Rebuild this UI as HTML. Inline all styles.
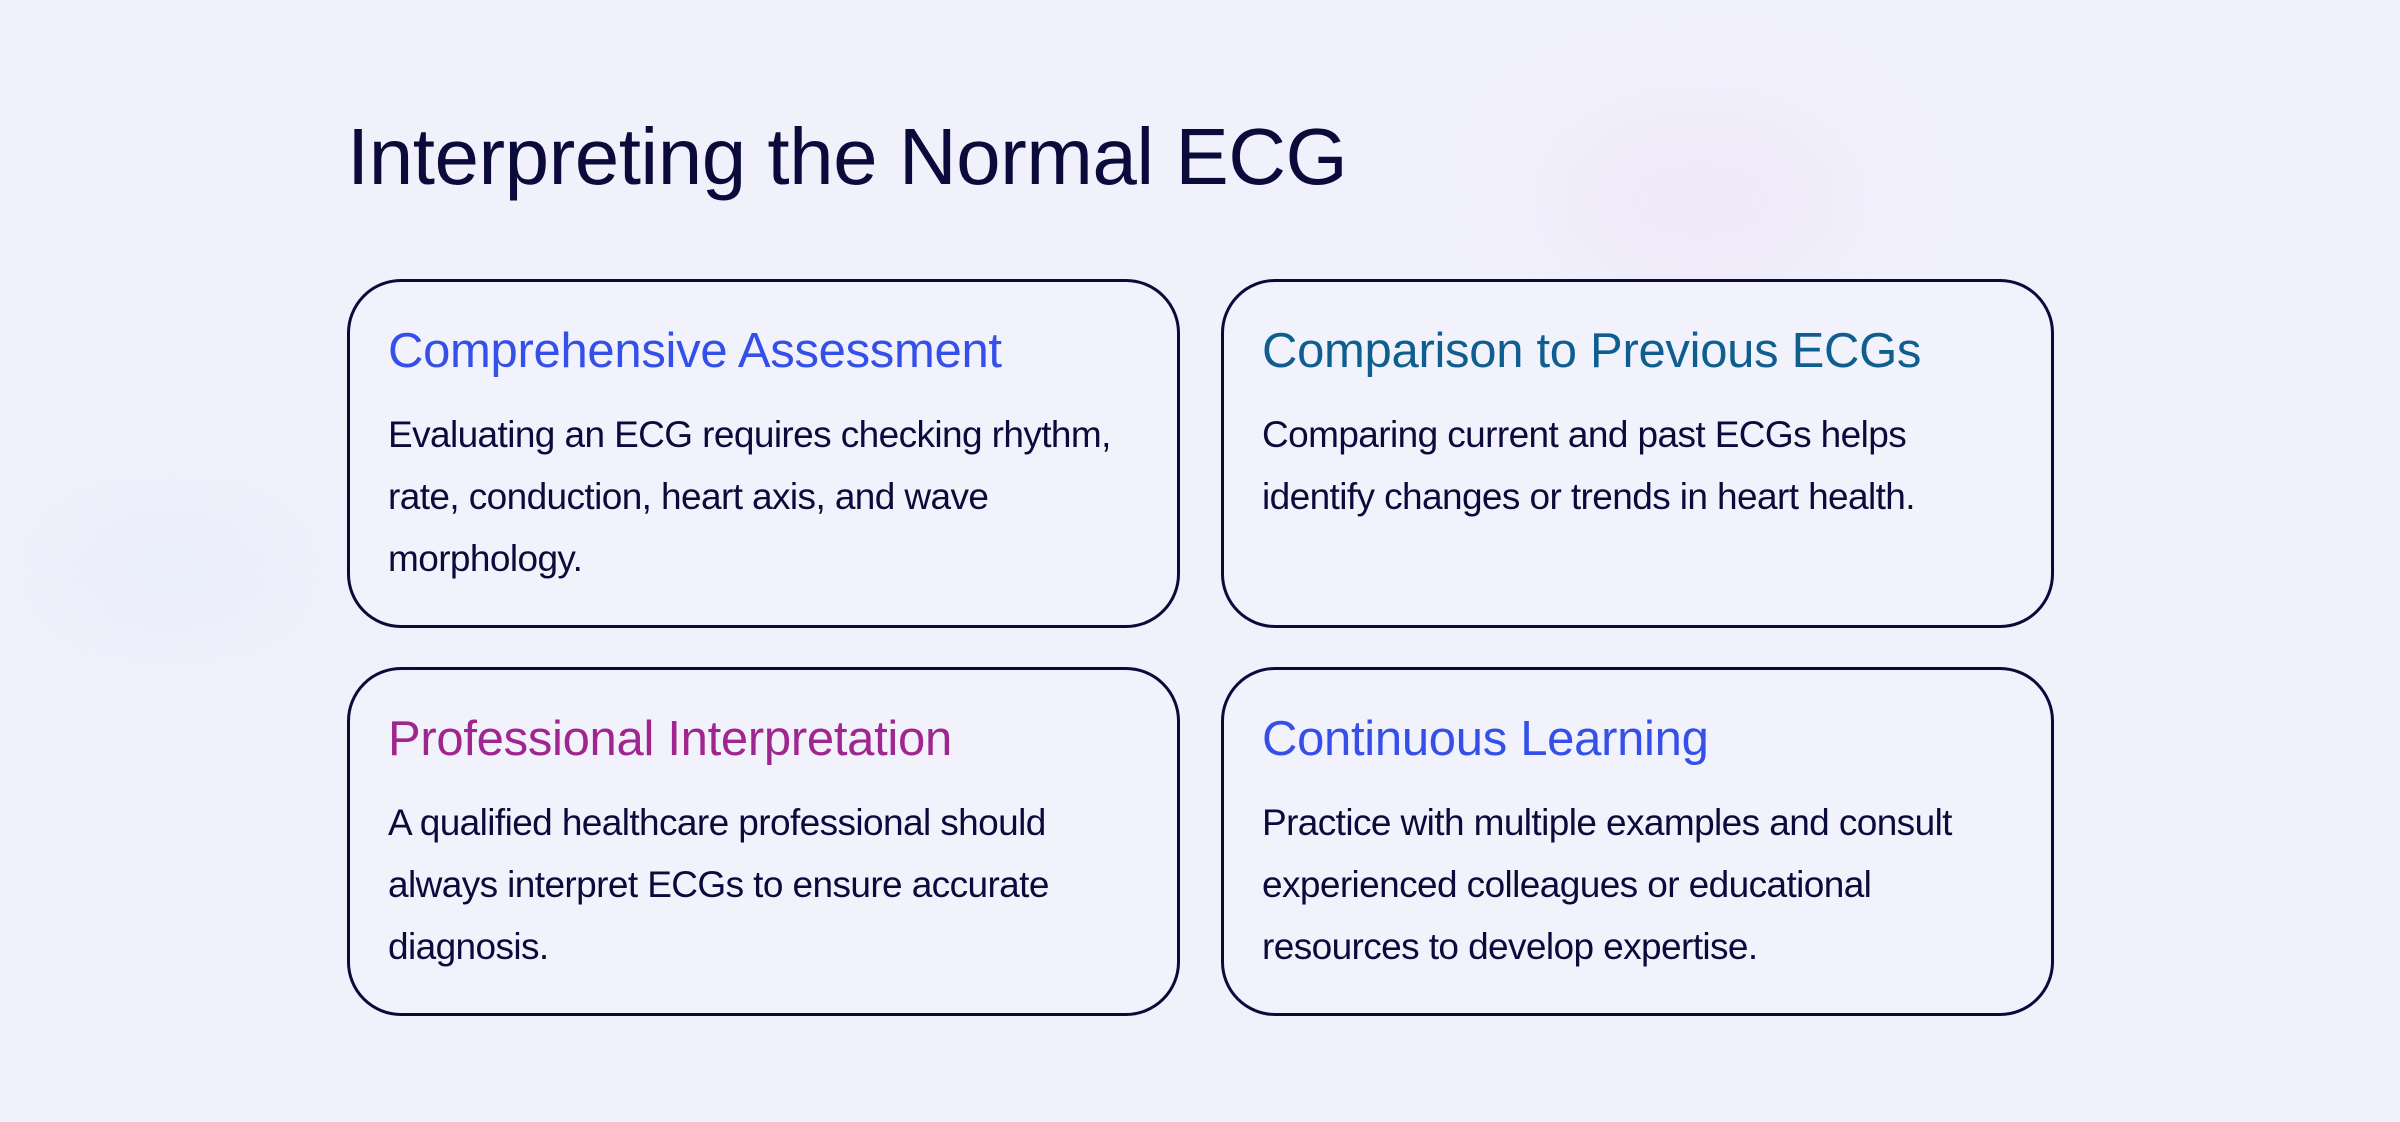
<!DOCTYPE html>
<html><head><meta charset="utf-8"><style>
body{margin:0;width:2400px;height:1122px;overflow:hidden;background:#f1f1fc;font-family:"Liberation Sans",sans-serif;position:relative}
.blob{position:absolute;border-radius:50%;filter:blur(60px);opacity:.5}
h1{position:absolute;left:347px;top:117px;margin:0;font-size:80px;line-height:1;font-weight:400;color:#0b0b3b;letter-spacing:-0.5px}
.card{position:absolute;width:827px;height:343px;border:3px solid #0b0b3b;border-radius:54px;background:#f2f2fd}
.card h2{position:absolute;left:38px;top:45px;margin:0;font-size:49px;line-height:1;font-weight:400;letter-spacing:-0.3px;white-space:nowrap}
.card p{position:absolute;left:38px;top:122px;margin:0;width:780px;font-size:37px;line-height:62px;color:#0b0b3b;letter-spacing:-0.6px;white-space:nowrap}
</style></head><body>
<div class="blob" style="left:1550px;top:130px;width:300px;height:140px;background:#ecdcf4"></div>
<div class="blob" style="left:20px;top:500px;width:300px;height:140px;background:#e0e8f8"></div>
<h1>Interpreting the Normal ECG</h1>
<div class="card" style="left:347px;top:279px">
<h2 style="color:#3550e8">Comprehensive Assessment</h2>
<p>Evaluating an ECG requires checking rhythm,<br>rate, conduction, heart axis, and wave<br>morphology.</p></div>
<div class="card" style="left:1221px;top:279px">
<h2 style="color:#0e5f8f">Comparison to Previous ECGs</h2>
<p>Comparing current and past ECGs helps<br>identify changes or trends in heart health.</p></div>
<div class="card" style="left:347px;top:667px">
<h2 style="color:#a0258f">Professional Interpretation</h2>
<p>A qualified healthcare professional should<br>always interpret ECGs to ensure accurate<br>diagnosis.</p></div>
<div class="card" style="left:1221px;top:667px">
<h2 style="color:#3550e8">Continuous Learning</h2>
<p>Practice with multiple examples and consult<br>experienced colleagues or educational<br>resources to develop expertise.</p></div>
</body></html>
